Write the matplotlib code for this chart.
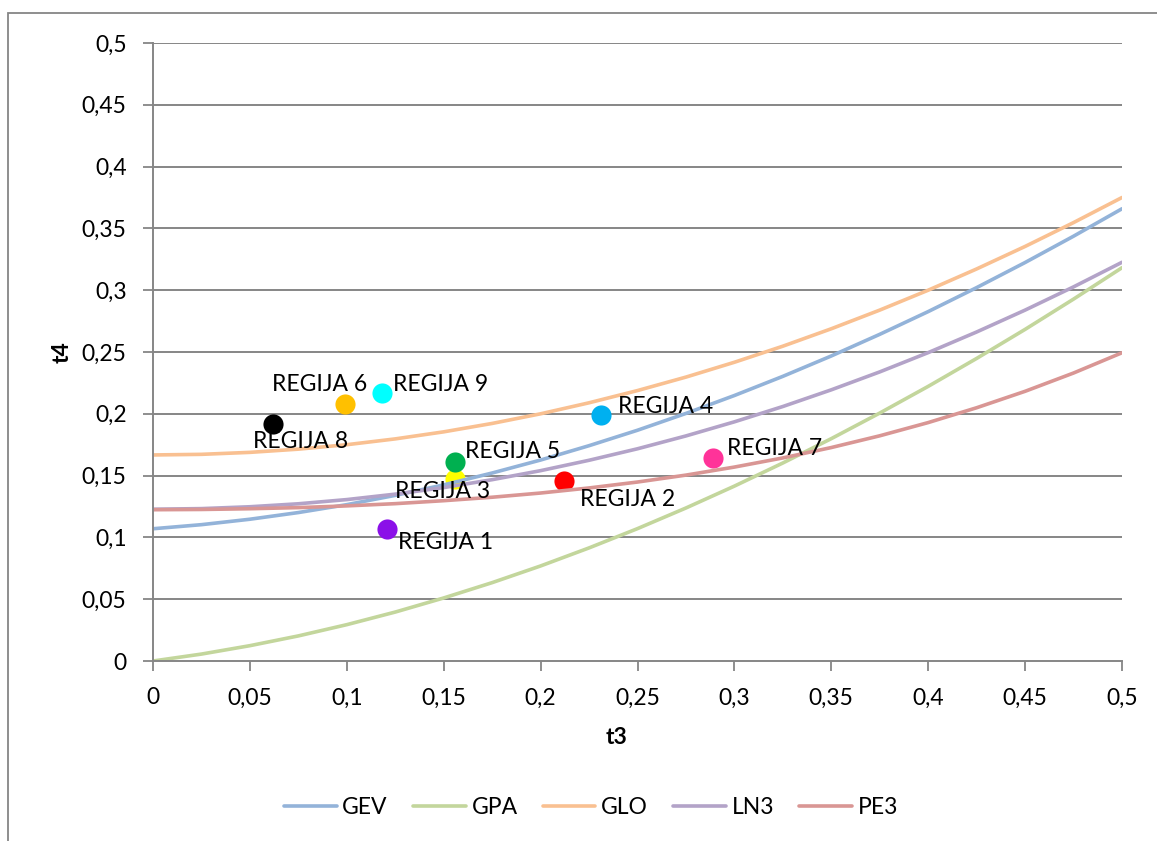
import matplotlib
matplotlib.use("Agg")
import matplotlib.pyplot as plt
from matplotlib.patches import Rectangle

plt.rcParams['font.family'] = ['Lato', 'DejaVu Sans']

# t3 grid at which curve values were read
t3_grid = [0, 0.025, 0.05, 0.075, 0.1, 0.125, 0.15, 0.175, 0.2, 0.225, 0.25,
           0.275, 0.3, 0.325, 0.35, 0.375, 0.4, 0.425, 0.45, 0.475, 0.5]

gev = [0.1070, 0.1103, 0.1147, 0.1201, 0.1265, 0.1340, 0.1425, 0.1521, 0.1626, 0.1742, 0.1867,
       0.2003, 0.2148, 0.2303, 0.2468, 0.2643, 0.2827, 0.3021, 0.3224, 0.3437, 0.3659]
gpa = [0.0000, 0.0056, 0.0124, 0.0203, 0.0294, 0.0396, 0.0510, 0.0634, 0.0769, 0.0915, 0.1071,
       0.1238, 0.1415, 0.1602, 0.1799, 0.2006, 0.2222, 0.2448, 0.2683, 0.2928, 0.3182]
glo = [0.1667, 0.1672, 0.1688, 0.1714, 0.1750, 0.1797, 0.1854, 0.1922, 0.2000, 0.2089, 0.2188,
       0.2297, 0.2417, 0.2547, 0.2688, 0.2839, 0.3000, 0.3172, 0.3354, 0.3547, 0.3750]
ln3 = [0.1228, 0.1233, 0.1248, 0.1272, 0.1306, 0.1350, 0.1403, 0.1467, 0.1540, 0.1624, 0.1717,
       0.1821, 0.1935, 0.2059, 0.2194, 0.2339, 0.2495, 0.2662, 0.2839, 0.3027, 0.3226]
pe3 = [0.1224, 0.1226, 0.1232, 0.1241, 0.1255, 0.1273, 0.1297, 0.1325, 0.1359, 0.1400, 0.1448,
       0.1504, 0.1569, 0.1643, 0.1727, 0.1822, 0.1929, 0.2049, 0.2182, 0.2330, 0.2494]

curve_names = ['GEV', 'GPA', 'GLO', 'LN3', 'PE3']
curve_values = [gev, gpa, glo, ln3, pe3]
curve_colors = ['#93B3D9', '#C3D69C', '#F9C091', '#B3A3C8', '#D99694']

regions = ['REGIJA 1', 'REGIJA 2', 'REGIJA 3', 'REGIJA 4', 'REGIJA 5',
           'REGIJA 6', 'REGIJA 7', 'REGIJA 8', 'REGIJA 9']
region_t3 = [0.121, 0.212, 0.156, 0.231, 0.156, 0.099, 0.289, 0.062, 0.118]
region_t4 = [0.107, 0.146, 0.147, 0.199, 0.161, 0.208, 0.164, 0.192, 0.217]
region_colors = ['#8B10E8', '#FF0000', '#FFFF00', '#00B0F0', '#00B050',
                 '#FFC000', '#FF3399', '#000000', '#00FFFF']
# label offsets in pixels (dx to left edge, dy to centre)
label_offsets = [(11, -14), (16, -19), (-60, -12), (17, 9), (10, 11),
                 (-73, 19), (14, 10), (-20, -18), (11, 8)]

xticks = [0, 0.05, 0.1, 0.15, 0.2, 0.25, 0.3, 0.35, 0.4, 0.45, 0.5]
yticks = [0, 0.05, 0.1, 0.15, 0.2, 0.25, 0.3, 0.35, 0.4, 0.45, 0.5]
tick_labels = ['0', '0,05', '0,1', '0,15', '0,2', '0,25', '0,3', '0,35', '0,4', '0,45', '0,5']

FS = 16.5
W, H = 1157, 841
fig = plt.figure(figsize=(W / 100, H / 100), dpi=100)
ax = fig.add_axes([153 / W, 1 - 661 / H, (1122 - 153) / W, (661 - 43) / H])

# chart border
fig.patches.append(Rectangle((8 / W, -0.1), 1.2, (1 - 13 / H) + 0.1, transform=fig.transFigure,
                             fill=False, edgecolor='#868686', linewidth=1.3))

for yv in yticks[1:]:
    ax.axhline(yv, color='#868686', linewidth=1.4, zorder=1)

for t3, t4, c in zip(region_t3, region_t4, region_colors):
    ax.plot([t3], [t4], 'o', color=c, markersize=14.5, markeredgewidth=0, zorder=2)

for name, vals, c in zip(curve_names, curve_values, curve_colors):
    ax.plot(t3_grid, vals, color=c, linewidth=2.6, label=name, zorder=3,
            solid_capstyle='round')

for name, t3, t4, (dx, dy) in zip(regions, region_t3, region_t4, label_offsets):
    ax.annotate(name, (t3, t4), xytext=(dx, dy), textcoords='offset pixels',
                ha='left', va='center', fontsize=FS, color='black', zorder=5)

ax.set_xlim(0, 0.5)
ax.set_ylim(0, 0.5)
ax.set_xticks(xticks)
ax.set_xticklabels(tick_labels)
ax.set_yticks(yticks)
ax.set_yticklabels(tick_labels)
ax.tick_params(axis='both', direction='out', length=7, width=1.3, color='#868686',
               labelsize=FS)
ax.tick_params(axis='x', pad=12)
ax.tick_params(axis='y', pad=12)
for s in ['top', 'right']:
    ax.spines[s].set_visible(False)
for s in ['left', 'bottom']:
    ax.spines[s].set_color('#868686')
    ax.spines[s].set_linewidth(1.4)
ax.spines['left'].set_zorder(4)
ax.spines['bottom'].set_zorder(4)

fig.text(617 / W, 1 - 737 / H, 't3', ha='center', va='center', fontsize=FS, fontweight='bold')
fig.text(62 / W, 1 - 352 / H, 't4', ha='center', va='center', fontsize=FS, fontweight='bold',
         rotation=90)

fig.legend(loc='center', bbox_to_anchor=(591 / W, 1 - 808 / H), ncol=5, frameon=False,
           fontsize=FS, handlelength=2.3, columnspacing=1.1, handletextpad=0.25)

fig.savefig('out.png', dpi=100)
